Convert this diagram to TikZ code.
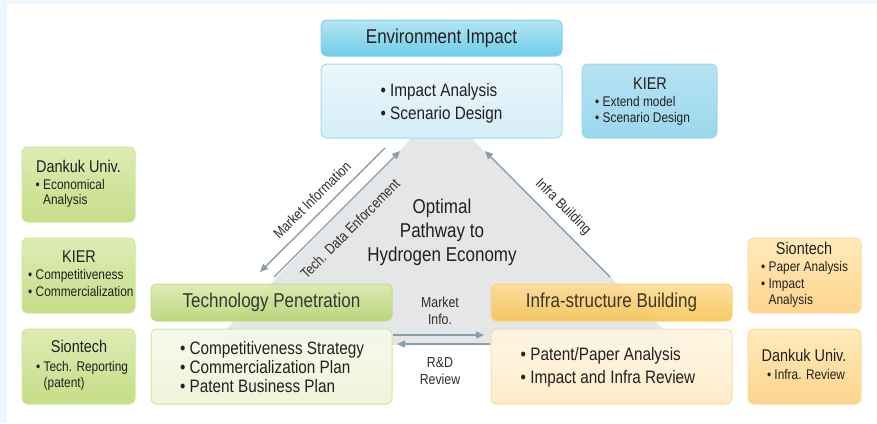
\documentclass[tikz,border=0pt]{standalone}
\usepackage{fontspec}
\setmainfont{Liberation Sans}[FakeStretch=0.85]
\usetikzlibrary{arrows.meta}
\newcommand{\fsz}[1]{\fontsize{#1}{#1}\selectfont}
\newcommand{\bul}{\textbullet\ }
\newcommand{\nobul}{\phantom{\textbullet\ }}
\definecolor{bgblue}{HTML}{EEF7FD}
\definecolor{tri}{HTML}{E5E6E8}
\definecolor{arr}{HTML}{8C9DAA}
\definecolor{txt}{HTML}{231F20}
\definecolor{lbl}{HTML}{2E2E2E}
\definecolor{bTtop}{HTML}{B3E5F3}\definecolor{bTbot}{HTML}{6FCDE7}\definecolor{bTdr}{HTML}{86D2EA}
\definecolor{bBtop}{HTML}{EAF6FB}\definecolor{bBbot}{HTML}{D5EEF8}\definecolor{bBdr}{HTML}{A5DBEE}
\definecolor{bStop}{HTML}{B6E3F2}\definecolor{bSbot}{HTML}{9AD7ED}\definecolor{bSdr}{HTML}{A0D9EE}
\definecolor{gTtop}{HTML}{DCEAAE}\definecolor{gTbot}{HTML}{B4D36C}\definecolor{gTdr}{HTML}{C6DD8C}
\definecolor{gBtop}{HTML}{F6FAEA}\definecolor{gBbot}{HTML}{ECF4D6}\definecolor{gBdr}{HTML}{D3E6A3}
\definecolor{gStop}{HTML}{DEECB4}\definecolor{gSbot}{HTML}{C6DD87}\definecolor{gSdr}{HTML}{D2E49F}
\definecolor{oTtop}{HTML}{FDDD93}\definecolor{oTbot}{HTML}{F7C34E}\definecolor{oTdr}{HTML}{FBD37E}
\definecolor{oBtop}{HTML}{FFF6E3}\definecolor{oBbot}{HTML}{FEEBC5}\definecolor{oBdr}{HTML}{FCDDA5}
\definecolor{oStop}{HTML}{FFEABB}\definecolor{oSbot}{HTML}{FDD58D}\definecolor{oSdr}{HTML}{FCDCA2}
\tikzset{
  box/.style={rectangle, rounded corners=6pt, line width=1pt, inner sep=0pt, text=txt, align=center},
  bluetitle/.style={box, draw=bTdr, top color=bTtop, bottom color=bTbot},
  bluebody/.style={box, draw=bBdr, top color=bBtop, bottom color=bBbot},
  blueside/.style={box, draw=bSdr, top color=bStop, bottom color=bSbot},
  greentitle/.style={box, draw=gTdr, top color=gTtop, bottom color=gTbot, fill opacity=0.88},
  greenbody/.style={box, draw=gBdr, top color=gBtop, bottom color=gBbot, fill opacity=0.9},
  greenside/.style={box, draw=gSdr, top color=gStop, bottom color=gSbot},
  orangetitle/.style={box, draw=oTdr, top color=oTtop, bottom color=oTbot, fill opacity=0.88},
  orangebody/.style={box, draw=oBdr, top color=oBtop, bottom color=oBbot, fill opacity=0.9},
  orangeside/.style={box, draw=oSdr, top color=oStop, bottom color=oSbot},
  conn/.style={draw=arr, line width=1.4pt, -{Triangle[length=8pt,width=7pt]}},
  lab/.style={text=lbl, inner sep=0pt, font=\fsz{14.5}},
  side/.style={text=txt, inner sep=0pt},
}
\begin{document}
\begin{tikzpicture}[x=1pt,y=-1pt]
\useasboundingbox (0,0) rectangle (877,423);
\fill[bgblue] (0,0) rectangle (877,423);
\fill[white] (7,4) rectangle (877,423);
% central triangle
\fill[tri] (441,108) -- (211,345) -- (679,345) -- cycle;

% top
\node[bluetitle, minimum width=241pt, minimum height=36pt, font=\fsz{20}] (env) at (441.5,38) {Environment Impact};
\node[bluebody, minimum width=241pt, minimum height=74pt] (envb) at (441.5,101) {};
\node[side, align=left, font=\fsz{18}] (envt) at (441.5,103) {\bul Impact Analysis\\[5pt]\bul Scenario Design};
\node[blueside, minimum width=135pt, minimum height=74pt] (kierR) at (649.5,101) {};
\node[side, anchor=mid, font=\fsz{17}] (kierRt) at (650,87) {KIER};
\node[side, anchor=mid west, font=\fsz{14}] (kierR1) at (595,103.5) {\bul Extend model};
\node[side, anchor=mid west, font=\fsz{14}] (kierR2) at (595,120) {\bul Scenario Design};

% left side boxes
\node[greenside, minimum width=113pt, minimum height=75pt] (dankL) at (78.5,184.5) {};
\node[side, anchor=mid, font=\fsz{17}] (dankLt) at (78.5,170) {Dankuk Univ.};
\node[side, anchor=mid west, font=\fsz{14}] (dankL1) at (35.5,187) {\bul Economical};
\node[side, anchor=mid west, font=\fsz{14}] (dankL2) at (35.5,202) {\nobul Analysis};

\node[greenside, minimum width=113pt, minimum height=75pt] (kierL) at (78.5,275.5) {};
\node[side, anchor=mid, font=\fsz{17}] (kierLt) at (79,260) {KIER};
\node[side, anchor=mid west, font=\fsz{14}] (kierL1) at (28,277) {\bul Competitiveness};
\node[side, anchor=mid west, font=\fsz{14}] (kierL2) at (28,294) {\bul Commercialization};

\node[greenside, minimum width=113pt, minimum height=75pt] (sionL) at (78.5,366.5) {};
\node[side, anchor=mid, font=\fsz{17}] (sionLt) at (79,350) {Siontech};
\node[side, anchor=mid west, font=\fsz{14}] (sionL1) at (36,369) {\bul Tech. Reporting};
\node[side, anchor=mid west, font=\fsz{14}] (sionL2) at (36,385) {\nobul (patent)};

% main lower boxes
\node[greentitle, minimum width=241pt, minimum height=37pt, font=\fsz{20}] (tech) at (271.5,302.5) {Technology Penetration};
\node[greenbody, minimum width=241pt, minimum height=75pt] (techb) at (271.5,366.5) {};
\node[side, align=left, font=\fsz{18}] (techt) at (272,367) {\bul Competitiveness Strategy\\[1pt]\bul Commercialization Plan\\[1pt]\bul Patent Business Plan};

\node[orangetitle, minimum width=241pt, minimum height=37pt, font=\fsz{20}] (infra) at (611.5,302.5) {Infra-structure Building};
\node[orangebody, minimum width=241pt, minimum height=75pt] (infrab) at (611.5,366.5) {};
\node[side, align=left, font=\fsz{18}] (infrat) at (608,367.5) {\bul Patent/Paper Analysis\\[5pt]\bul Impact and Infra Review};

% right side boxes
\node[orangeside, minimum width=113pt, minimum height=75pt] (sionR) at (804.5,275.5) {};
\node[side, anchor=mid, font=\fsz{17}] (sionRt) at (804,252) {Siontech};
\node[side, anchor=mid west, font=\fsz{14}] (sionR1) at (761,269) {\bul Paper Analysis};
\node[side, anchor=mid west, font=\fsz{14}] (sionR2) at (761,286) {\bul Impact};
\node[side, anchor=mid west, font=\fsz{14}] (sionR3) at (761,302) {\nobul Analysis};

\node[orangeside, minimum width=113pt, minimum height=75pt] (dankR) at (804.5,366.5) {};
\node[side, anchor=mid, font=\fsz{17}] (dankRt) at (804,359) {Dankuk Univ.};
\node[side, anchor=mid, font=\fsz{14}] (dankR1) at (806,377) {\bul Infra. Review};

% centre text
\node[side, align=center, font=\fsz{20}] (opt) at (442,232) {Optimal\\[4pt]Pathway to\\[4pt]Hydrogen Economy};

% connectors
\coordinate (mA) at (385,148);
\coordinate (mB) at (260,272);
\coordinate (tA) at (274,277);
\coordinate (tB) at (400,151);
\coordinate (iA) at (610,277);
\coordinate (iB) at (485,151);
\coordinate (rA) at (393,335);
\coordinate (rB) at (484,335);
\coordinate (lA) at (490,344);
\coordinate (lB) at (397,344);
\draw[conn] (mA) -- (mB);
\draw[conn] (tA) -- (tB);
\draw[conn] (iA) -- (iB);
\draw[conn] (rA) -- (rB);
\draw[conn] (lA) -- (lB);

\node[lab, rotate=45] (mlab) at (312,200) {Market Information};
\node[lab, rotate=45] (tlab) at (350,229) {Tech. Data Enforcement};
\node[lab, rotate=-45] (ilab) at (563,207) {Infra Building};
\node[lab, align=center] (milab) at (440,311) {Market\\[2pt]Info.};
\node[lab, align=center] (rdlab) at (440,371) {R\&D\\[2pt]Review};
\end{tikzpicture}
\end{document}
